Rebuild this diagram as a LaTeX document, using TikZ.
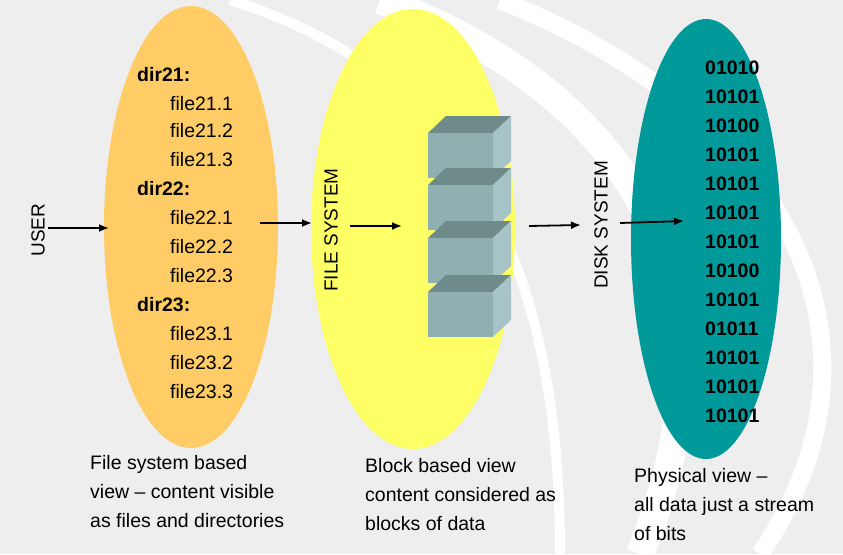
\documentclass[tikz,border=0pt]{standalone}
\usepackage{fontspec}
\setmainfont{Liberation Sans}
\usetikzlibrary{arrows.meta,shapes.geometric}
\definecolor{bg}{HTML}{EEEEEE}
\definecolor{orng}{HTML}{FFCC66}
\definecolor{yel}{HTML}{FFFF66}
\definecolor{teal2}{HTML}{009999}
\definecolor{bfront}{HTML}{8FAFB0}
\definecolor{btop}{HTML}{6F8A8A}
\definecolor{bside}{HTML}{A6C4C8}
\begin{document}
\begin{tikzpicture}[x=1pt,y=-1pt,
  txt/.style={font=\fontsize{19.5}{22}\selectfont,anchor=west,inner sep=0pt},
  bit/.style={font=\fontsize{19.5}{22}\selectfont\bfseries,anchor=west,inner sep=0pt},
  captext/.style={font=\fontsize{19.5}{29}\selectfont,anchor=north west,align=left,inner sep=0pt},
  side/.style={font=\fontsize{19}{22}\selectfont,rotate=90,inner sep=0pt},
  arr/.style={-{Latex[length=10pt,width=8pt]},line width=1.8pt}]
\fill[bg] (0,0) rectangle (843,554);
\useasboundingbox (0,0) rectangle (843,554);
\begin{scope}
\clip (0,0) rectangle (843,554);
\draw[white,line width=28pt] (380,0) .. controls (600,80) and (760,260) .. (640,554);
\draw[white,line width=18pt] (500,0) .. controls (800,120) and (900,350) .. (760,554);
\draw[white,line width=10pt] (230,0) .. controls (420,60) and (560,200) .. (560,554);
\end{scope}
\node[ellipse,fill=orng,minimum width=174pt,minimum height=442pt,draw=none] (e1) at (191,227) {};
\node[ellipse,fill=yel,minimum width=204pt,minimum height=440pt] (e2) at (413,229) {};
\node[ellipse,fill=teal2,minimum width=150pt,minimum height=440pt] (e3) at (706,239) {};
% file list
\foreach \t/\y in {dir21:/75,dir22:/189,dir23:/305}
  \node[bit] at (137,\y) {\t};
\foreach \t/\y in {file21.1/104,file21.2/131,file21.3/160,file22.1/218,file22.2/247,file22.3/276,file23.1/334,file23.2/363,file23.3/392}
  \node[txt] at (170,\y) {\t};
% bits
\foreach \t [count=\i from 0] in {01010,10101,10100,10101,10101,10101,10101,10100,10101,01011,10101,10101,10101}
  \node[bit] at (705,68+29*\i) {\t};
% blocks
\foreach \top in {133,185,238,292}{
  \fill[btop] (428,\top) -- (446,\top-17) -- (511,\top-17) -- (493,\top) -- cycle;
  \fill[bside] (493,\top) -- (511,\top-17) -- (511,\top+28) -- (493,\top+45) -- cycle;
  \fill[bfront] (428,\top) rectangle (493,\top+45);
}
\node[side] (user) at (38,230) {USER};
\node[side] (fs) at (331,230) {FILE SYSTEM};
\node[side] (ds) at (601,225) {DISK SYSTEM};
\coordinate (a1) at (48,228); \coordinate (b1) at (109,228);
\coordinate (a2) at (260,223); \coordinate (b2) at (312,223);
\coordinate (a3) at (350,226); \coordinate (b3) at (402,226);
\coordinate (a4) at (529,226); \coordinate (b4) at (581,225);
\coordinate (a5) at (620,223); \coordinate (b5) at (684,221);
\foreach \i in {1,...,5} \draw[arr] (a\i) -- (b\i);
\node[captext] at (90,455) {File system based\\view -- content visible\\as files and directories};
\node[captext] at (365,458) {Block based view\\content considered as\\blocks of data};
\node[captext] at (634,468) {Physical view --\\all data just a stream\\of bits};
\end{tikzpicture}
\end{document}
